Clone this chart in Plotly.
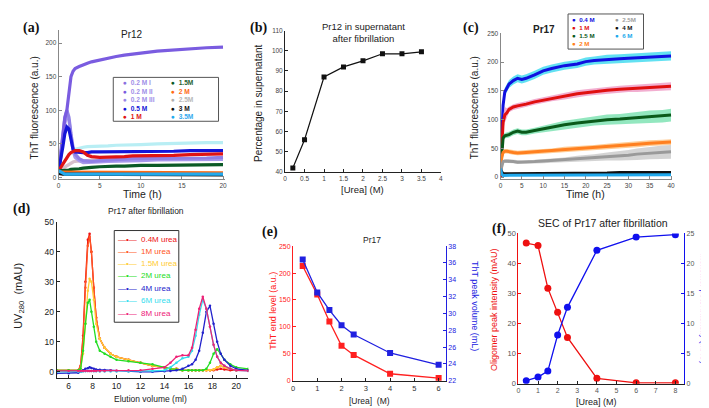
import plotly.graph_objects as go

W, H = 709, 408
ARIAL = "Arial, Liberation Sans, sans-serif"
TIMES = "Times New Roman, Liberation Serif, serif"

def xd(a, b): return [a / W, b / W]
def yd(top, bottom): return [1 - bottom / H, 1 - top / H]
def px(x): return x / W
def py(y): return 1 - y / H

# ---------------- (a) Pr12 ThT kinetics ----------------
a_time = [0, 0.25, 0.5, 0.75, 1, 1.25, 1.5, 1.75, 2, 2.5, 3, 3.5, 4, 5, 6, 7, 8, 9, 10, 12, 14, 16, 18, 20]
a_band = [None, None, None, None, None, None, None, None, 42, 44, 45, 46, 46, 47, 47, 48, 48, 49, 49, 50, 51, 51, 52, 52]
a_02I = [10, 30, 60, 88, 100, 125, 150, 158, 162, 165, 168, 170, 172, 175, 177, 180, 182, 184, 185, 188, 190, 192, 193, 194]
a_02II = [10, 35, 65, 90, 100, 90, 65, 45, 35, 28, 25, 24, 24, 25, 26, 27, 27, 28, 28, 28, 29, 29, 29, 30]
a_02III = [10, 30, 55, 80, 95, 85, 60, 40, 30, 25, 22, 22, 22, 23, 24, 24, 25, 25, 25, 26, 26, 26, 27, 27]
a_05 = [10, 25, 45, 65, 75, 72, 55, 42, 38, 37, 37, 37, 38, 38, 38, 38, 38, 39, 39, 39, 39, 40, 40, 40]
a_1 = [10, 15, 20, 25, 30, 34, 37, 39, 40, 40, 38, 33, 31, 30, 30, 31, 31, 32, 32, 33, 33, 34, 34, 35]
a_15 = [10, 10, 10, 11, 11, 11, 12, 12, 12, 13, 14, 14, 15, 16, 17, 17, 17, 18, 18, 18, 18, 19, 19, 19]
a_2 = [8, 8, 7, 7, 7, 7, 7, 7, 7, 7, 7, 7, 7, 7, 7, 7, 7, 7, 7, 7, 7, 7, 7, 7]
a_25 = [10, 12, 14, 16, 18, 20, 22, 23, 24, 25, 25, 25, 26, 26, 26, 26, 27, 27, 27, 27, 28, 28, 28, 28]
a_3 = [6, 5, 5, 5, 5, 5, 4, 4, 4, 4, 4, 4, 4, 4, 4, 4, 4, 4, 4, 4, 4, 4, 4, 4]
a_35 = [10, 8, 6, 5, 5, 5, 5, 5, 5, 5, 5, 5, 5, 5, 5, 5, 5, 5, 5, 5, 5, 5, 5, 5]
a_labels = ["0.2 M I", "0.2 M II", "0.2 M III", "0.5 M", "1 M", "1.5M", "2 M", "2.5M", "3 M", "3.5M"]

# ---------------- (b) Pr12 supernatant ----------------
b_urea = [0.2, 0.5, 1, 1.5, 2, 2.5, 3, 3.5]
b_pct = [42, 56, 87, 92, 95, 98.5, 98.5, 99.5]

# ---------------- (c) Pr17 ThT kinetics ----------------
c_time = [0, 0.3, 0.6, 1, 1.5, 2, 3, 4, 5, 6, 8, 10, 12, 15, 18, 20, 22, 25, 28, 30, 32, 35, 38, 40]
c_04 = [0, 75, 125, 148, 155, 162, 168, 172, 170, 172, 178, 185, 189, 194, 197, 201, 203, 205, 206, 207, 208, 209, 210, 211]
c_04_err = [0, 6, 7, 7, 7, 7, 7, 7, 7, 7, 7, 7, 7, 7, 7, 7, 7, 8, 8, 8, 8, 8, 8, 8]
c_1 = [0, 55, 95, 108, 112, 118, 122, 124, 125, 127, 131, 134, 137, 141, 145, 147, 149, 151, 153, 154, 155, 156, 157, 158]
c_1_err = [0, 8, 12, 14, 8, 5, 5, 5, 5, 5, 5, 5, 5, 6, 6, 6, 6, 6, 6, 6, 7, 7, 7, 7]
c_15 = [10, 45, 68, 72, 73, 74, 78, 80, 78, 78, 81, 84, 87, 91, 94, 96, 98, 100, 101, 102, 103, 105, 106, 108]
c_15_err = [0, 4, 5, 5, 5, 5, 5, 5, 5, 5, 5, 6, 6, 7, 7, 8, 8, 9, 9, 10, 10, 11, 11, 11]
c_2 = [10, 35, 43, 45, 45, 44, 43, 42, 42, 43, 44, 45, 46, 48, 49, 50, 51, 53, 55, 56, 57, 59, 60, 61]
c_2_err = [0, 4, 4, 4, 4, 4, 4, 4, 4, 4, 4, 4, 4, 5, 5, 5, 5, 5, 5, 5, 5, 5, 5, 5]
c_25 = [10, 22, 27, 28, 28, 28, 27, 26, 26, 26, 27, 28, 29, 30, 32, 33, 34, 36, 37, 38, 40, 42, 43, 44]
c_25_err = [0, 3, 3, 3, 3, 3, 3, 3, 3, 3, 3, 4, 4, 4, 5, 5, 6, 7, 8, 9, 10, 11, 12, 12]
c_4 = [12, 8, 6, 6, 6, 6, 6, 6, 6, 6, 6, 6, 7, 7, 7, 7, 7, 7, 8, 8, 8, 8, 8, 8]
c_6 = [15, 5, 3, 3, 3, 3, 3, 3, 3, 3, 3, 3, 3, 3, 4, 4, 4, 4, 4, 4, 4, 4, 4, 4]
c_labels_left = ["0.4 M", "1 M", "1.5 M", "2 M"]
c_labels_right = ["2.5M", "4 M", "6 M"]

# ---------------- (d) Pr17 SEC ----------------
d_vol = [5, 6, 6.8, 7.0, 7.2, 7.4, 7.6, 7.75, 7.9, 8.1, 8.3, 8.6, 9.0, 9.5, 10, 11, 12, 13, 14, 14.5,
         15, 15.5, 16, 16.3, 16.6, 16.9, 17.2, 17.5, 17.8, 18.1, 18.4, 18.7, 19, 19.5, 20, 21]
d_04 = [0.5, 0.5, 0.5, 2, 12, 30, 44, 46, 40, 28, 18, 11, 8, 6, 5, 4, 3, 2, 1.5, 1,
        1, 0.5, 0.5, 0.5, 0.5, 0.5, 0.5, 0.5, 0.5, 0.5, 0.8, 1, 0.8, 0.5, 0.5, 0.5]
d_1 = [0.5, 0.5, 0.5, 2, 11, 28, 42, 45, 40, 28, 18, 11, 8, 6, 5, 4, 3, 2, 1.5, 1,
       1, 0.5, 0.5, 0.5, 0.5, 0.5, 0.5, 0.5, 0.5, 0.8, 1.5, 2, 1.5, 1, 0.5, 0.5]
d_15 = [0.5, 0.5, 0.5, 1, 6, 16, 27, 31, 30, 24, 16, 11, 8, 6, 5, 4, 3, 2, 1.5, 1,
        1, 0.5, 0.5, 0.5, 0.5, 0.5, 0.5, 0.5, 0.5, 0.8, 1.5, 2, 1.5, 1, 0.5, 0.5]
d_2 = [0.5, 0.5, 0.5, 1, 7, 16, 23, 24, 20, 15, 10, 7, 6, 5, 4, 3.5, 3, 2.5, 1.5, 1,
       0.8, 0.5, 0.5, 0.5, 0.5, 0.5, 0.5, 1, 3, 6, 7.5, 6, 4, 2.5, 1.5, 1]
d_4 = [-0.5, -0.5, -0.3, 0, 0.5, 1, 1.2, 1.5, 1.3, 1, 0.8, 0.7, 0.6, 0.5, 0.3, 0.2, 0, 0, 0.2, 0.3,
       0.5, 1, 2, 2.5, 4, 7, 13, 20, 22, 16, 10, 6, 4, 2, 1, 0.5]
d_6 = [0, 0, 0, 0, 0.1, 0.2, 0.3, 0.3, 0.3, 0.2, 0.2, 0.1, 0.1, 0.1, 0.1, 0.1, 0.2, 0.3, 0.5, 1.5,
       3, 4.5, 5, 7, 12, 19, 24, 21, 15, 9, 5, 3, 2, 1, 0.5, 0.3]
d_8 = [0.3, 0.3, 0.3, 0.3, 0.3, 0.3, 0.3, 0.3, 0.3, 0.3, 0.3, 0.3, 0.3, 0.4, 0.4, 0.5, 0.5, 1, 1.5, 3,
       5, 5.5, 5.5, 8, 14, 21, 25, 21, 15, 9, 5, 3, 2, 1, 0.5, 0.3]
d_labels = ["0.4M urea", "1M urea", "1.5M urea", "2M urea", "4M urea", "6M urea", "8M urea"]

# ---------------- (e) Pr17 end level / peak volume ----------------
e_urea = [0.4, 1, 1.5, 2, 2.5, 4, 6]
e_end = [213, 160, 110, 65, 48, 13, 5]
e_peak = [36.4, 32.5, 30.4, 28.6, 27.5, 25.3, 23.9]

# ---------------- (f) SEC of Pr17 ----------------
f_urea = [0.4, 1, 1.5, 2, 2.5, 4, 6, 8]
f_olig = [46.8, 46, 31.8, 23.8, 15.4, 1.8, 0.3, 0.3]
f_mono = [0.5, 1.1, 2.1, 8.1, 12.7, 22.2, 24.4, 24.8]

fig = go.Figure()

def line(x, y, color, xa, ya, width=3, **kw):
    fig.add_trace(go.Scatter(x=x, y=y, mode="lines", line=dict(color=color, width=width),
                             xaxis=xa, yaxis=ya, showlegend=False, hoverinfo="skip", **kw))

# (a)
a_series = [
    (a_band, "#b8eef4"), (a_25, "#d8c0cc"), (a_02III, "#a898ec"), (a_02II, "#9080e6"),
    (a_02I, "#7a5ce0"), (a_05, "#1414d8"), (a_1, "#e01414"), (a_15, "#0b5a26"),
    (a_2, "#ff6a13"), (a_3, "#111111"), (a_35, "#22aaee"),
]
for ys, col in a_series:
    line(a_time, ys, col, "x", "y", width=3.2)

# (b)
fig.add_trace(go.Scatter(x=b_urea, y=b_pct, mode="lines+markers",
                         line=dict(color="#111", width=1.2),
                         marker=dict(symbol="square", size=5, color="#111"),
                         xaxis="x2", yaxis="y2", showlegend=False))

# (c)
c_series = [
    (c_04, c_04_err, "#1010e0", "rgba(70,220,240,0.85)"),
    (c_1, c_1_err, "#e01010", "rgba(240,160,200,0.85)"),
    (c_15, c_15_err, "#0a5a1a", "rgba(120,225,175,0.8)"),
    (c_2, c_2_err, "#ff8020", "rgba(255,195,130,0.85)"),
    (c_25, c_25_err, "#9a9a9a", "rgba(205,205,205,0.85)"),
]
for ys, err, col, band in c_series:
    up = [v + e for v, e in zip(ys, err)]
    lo = [v - e for v, e in zip(ys, err)]
    line(c_time, up, band, "x3", "y3", width=0)
    line(c_time, lo, band, "x3", "y3", width=0, fill="tonexty", fillcolor=band)
    line(c_time, ys, col, "x3", "y3", width=3)
line(c_time, c_4, "#111111", "x3", "y3", width=3)
line(c_time, c_6, "#20a8ec", "x3", "y3", width=3)

# (d)
d_cols = ["#ee1111", "#ff5522", "#ffcc33", "#22dd22", "#2222cc", "#33ddee", "#ee2277"]
for ys, col in zip([d_04, d_1, d_15, d_2, d_4, d_6, d_8], d_cols):
    fig.add_trace(go.Scatter(x=d_vol, y=ys, mode="lines+markers",
                             line=dict(color=col, width=1.3),
                             marker=dict(size=2.5, color=col),
                             xaxis="x4", yaxis="y4", showlegend=False))

# (e)
fig.add_trace(go.Scatter(x=e_urea, y=e_end, mode="lines+markers",
                         line=dict(color="#ff2020", width=1.3),
                         marker=dict(symbol="square", size=6, color="#ff2020"),
                         xaxis="x5", yaxis="y5", showlegend=False))
fig.add_trace(go.Scatter(x=e_urea, y=e_peak, mode="lines+markers",
                         line=dict(color="#2020e0", width=1.3),
                         marker=dict(symbol="square", size=6, color="#2020e0"),
                         xaxis="x5", yaxis="y6", showlegend=False))

# (f)
fig.add_trace(go.Scatter(x=f_urea, y=f_olig, mode="lines+markers",
                         line=dict(color="#ee1010", width=1.3),
                         marker=dict(size=7, color="#ee1010"),
                         xaxis="x6", yaxis="y7", showlegend=False))
fig.add_trace(go.Scatter(x=f_urea, y=f_mono, mode="lines+markers",
                         line=dict(color="#1010ee", width=1.3),
                         marker=dict(size=7, color="#1010ee"),
                         xaxis="x6", yaxis="y8", showlegend=False))

def ax(domain, rng, tickvals, anchor, size=7, color="#444", linecolor="#888", **kw):
    d = dict(domain=domain, range=rng, tickvals=tickvals, anchor=anchor, showgrid=False,
             zeroline=False, showline=True, linecolor=linecolor, linewidth=1, ticks="inside",
             ticklen=3, tickcolor=linecolor, tickfont=dict(size=size, color=color, family=ARIAL))
    d.update(kw)
    return d

layout = dict(
    width=W, height=H, margin=dict(l=0, r=0, t=0, b=0),
    paper_bgcolor="white", plot_bgcolor="white", showlegend=False,
    xaxis=ax(xd(49, 217), [0, 20.3], [0, 5, 10, 15, 20], "y", size=6.5),
    yaxis=ax(yd(17, 170), [-2, 220], [0, 50, 100, 150, 200], "x", size=6.5),
    xaxis2=ax(xd(277, 434), [0, 4], [0, 0.5, 1, 1.5, 2, 2.5, 3, 3.5, 4], "y2", size=6.5,
              linecolor="#222"),
    yaxis2=ax(yd(18, 163), [40, 110], [40, 50, 60, 70, 80, 90, 100, 110], "x2", size=6.5,
              linecolor="#222"),
    xaxis3=ax(xd(494, 667), [0, 40.3], [0, 5, 10, 15, 20, 25, 30, 35, 40], "y3", size=6.5),
    yaxis3=ax(yd(21, 170), [-3, 250], [0, 50, 100, 150, 200, 250], "x3", size=6.5),
    xaxis4=ax(xd(47, 240), [5, 21], [6, 8, 10, 12, 14, 16, 18, 20], "y4", size=8.5,
              linecolor="#222", color="#222"),
    yaxis4=ax(yd(214, 374), [-2, 50], [0, 10, 20, 30, 40, 50], "x4", size=8.5,
              linecolor="#222", color="#222"),
    xaxis5=ax(xd(285, 439), [0, 6.3], [0, 1, 2, 3, 4, 5, 6], "y5", size=7.5,
              linecolor="#222", color="#333"),
    yaxis5=ax(yd(239, 377), [0, 250], [0, 50, 100, 150, 200, 250], "x5", size=7,
              linecolor="#ff2020", color="#ff2020"),
    yaxis6=ax(yd(239, 377), [22, 38], [22, 24, 26, 28, 30, 32, 34, 36, 38], "x5", size=7,
              linecolor="#2020e0", color="#2020e0", overlaying="y5", side="right"),
    xaxis6=ax(xd(512, 679), [0, 8.45], [0, 1, 2, 3, 4, 5, 6, 7, 8], "y7", size=7,
              linecolor="#222", color="#555"),
    yaxis7=ax(yd(226, 380), [0, 50], [0, 10, 20, 30, 40, 50], "x6", size=7.5,
              linecolor="#ee1010", color="#555"),
    yaxis8=ax(yd(226, 380), [0, 25], [0, 5, 10, 15, 20, 25], "x6", size=7,
              linecolor="#1010ee", color="#555", overlaying="y7", side="right"),
)

annotations = []
shapes = []

def ann(text, x, y, size=10, color="#222", angle=0, family=ARIAL, xanchor="center",
        yanchor="middle", align="center"):
    annotations.append(dict(text=text, x=px(x), y=py(y), xref="paper", yref="paper",
                            showarrow=False, textangle=angle, xanchor=xanchor, yanchor=yanchor,
                            align=align, font=dict(size=size, color=color, family=family)))

def box(x0, y0, x1, y1, color="#555"):
    shapes.append(dict(type="rect", xref="paper", yref="paper", x0=px(x0), x1=px(x1),
                       y0=py(y1), y1=py(y0), line=dict(color=color, width=1),
                       fillcolor="white", layer="above"))

def legend_column(labels, bullet_cols, text_cols, x, yc, size):
    rows = ["<span style='color:%s'>●</span>&nbsp;&nbsp;<span style='color:%s'><b>%s</b></span>"
            % (bc, tc, lab) for lab, bc, tc in zip(labels, bullet_cols, text_cols)]
    ann("<br>".join(rows), x, yc, size=size, xanchor="left", align="left")

# panel labels
for lab, x, y in [("(a)", 22, 15), ("(b)", 250, 15), ("(c)", 464, 15),
                  ("(d)", 12, 201), ("(e)", 262, 224), ("(f)", 492, 221)]:
    ann("<b>%s</b>" % lab, x, y, size=14, color="#111", family=TIMES)

# (a) text
ann("Pr12", 123, 22, size=10)
ann("ThT fluorescence (a.u.)", 25, 97, size=10, angle=-90)
ann("Time (h)", 133, 186, size=10.5)
# (b) text
ann("Pr12 in supernatant<br>after fibrillation", 356, 20, size=9.5)
ann("Percentage in supernatant", 251, 92, size=10, angle=-90)
ann("[Urea] (M)", 355, 181, size=9.5)
# (c) text
ann("<b>Pr17</b>", 538, 17, size=10)
ann("ThT fluorescence (a.u.)", 468, 97, size=10, angle=-90)
ann("Time (h)", 580, 186, size=10.5)
# (d) text
ann("Pr17 after fibrillation", 137, 203, size=8.5)
ann("UV<sub>280</sub>  (mAU)", 9, 290, size=11, angle=-90)
ann("Elution volume (ml)", 142, 396, size=8.5)
# (e) text
ann("Pr17", 365, 233, size=8.5)
ann("ThT end level (a.u.)", 264, 305, size=9, color="#ff2020", angle=-90)
ann("ThT peak volume (mL)", 469, 300, size=9, color="#2020e0", angle=90)
ann("[Urea]  (M)", 362, 398, size=8.5)
# (f) text
ann("SEC of Pr17 after fibrillation", 597, 215, size=10.5)
ann("Oligomer peak intensity (mAU)", 487, 304, size=9, color="#ee1010", angle=-90)
ann("Monomer peak intensity (mAU)", 698, 303, size=8, color="#1010ee", angle=90)
ann("[Urea] (M)", 591, 398.5, size=9)

# (a) legend
box(104, 66, 210, 111)
a_leg_cols = ["#8a70e0", "#7a5ce0", "#9a88e6", "#1414d8", "#e01414",
              "#0b5a26", "#ff6a13", "#b0b0b0", "#111111", "#22aaee"]
a_leg_text = ["#9f8fe8", "#9f8fe8", "#9f8fe8", "#1414d8", "#e01414",
              "#1f5f2f", "#ff6a13", "#b8b8b8", "#111111", "#33aaee"]
legend_column(a_labels[:5], a_leg_cols[:5], a_leg_text[:5], 112, 88.5, 6.6)
legend_column(a_labels[5:], a_leg_cols[5:], a_leg_text[5:], 160, 88.5, 6.6)

# (c) legend
box(562, 1, 638, 37)
c_cols_left = ["#1010e0", "#e01010", "#0a5a1a", "#ff8020"]
c_cols_right = ["#a0a0a0", "#111111", "#20a8ec"]
legend_column(c_labels_left, c_cols_left, c_cols_left, 564, 19, 6.2)
legend_column(c_labels_right, c_cols_right, c_cols_right, 607, 15.2, 6.2)

# (d) legend
box(105, 223, 170, 317, color="#333")
d_rows = [232, 244.5, 257, 269.5, 282, 295, 308]
for i, lab in enumerate(d_labels):
    ann("—•—", 118.5, d_rows[i], size=8, color=d_cols[i])
    ann(lab, 130, d_rows[i], size=8, color=d_cols[i], xanchor="left")

layout["annotations"] = annotations
layout["shapes"] = shapes
fig.update_layout(**layout)
fig.write_html("out.html")
